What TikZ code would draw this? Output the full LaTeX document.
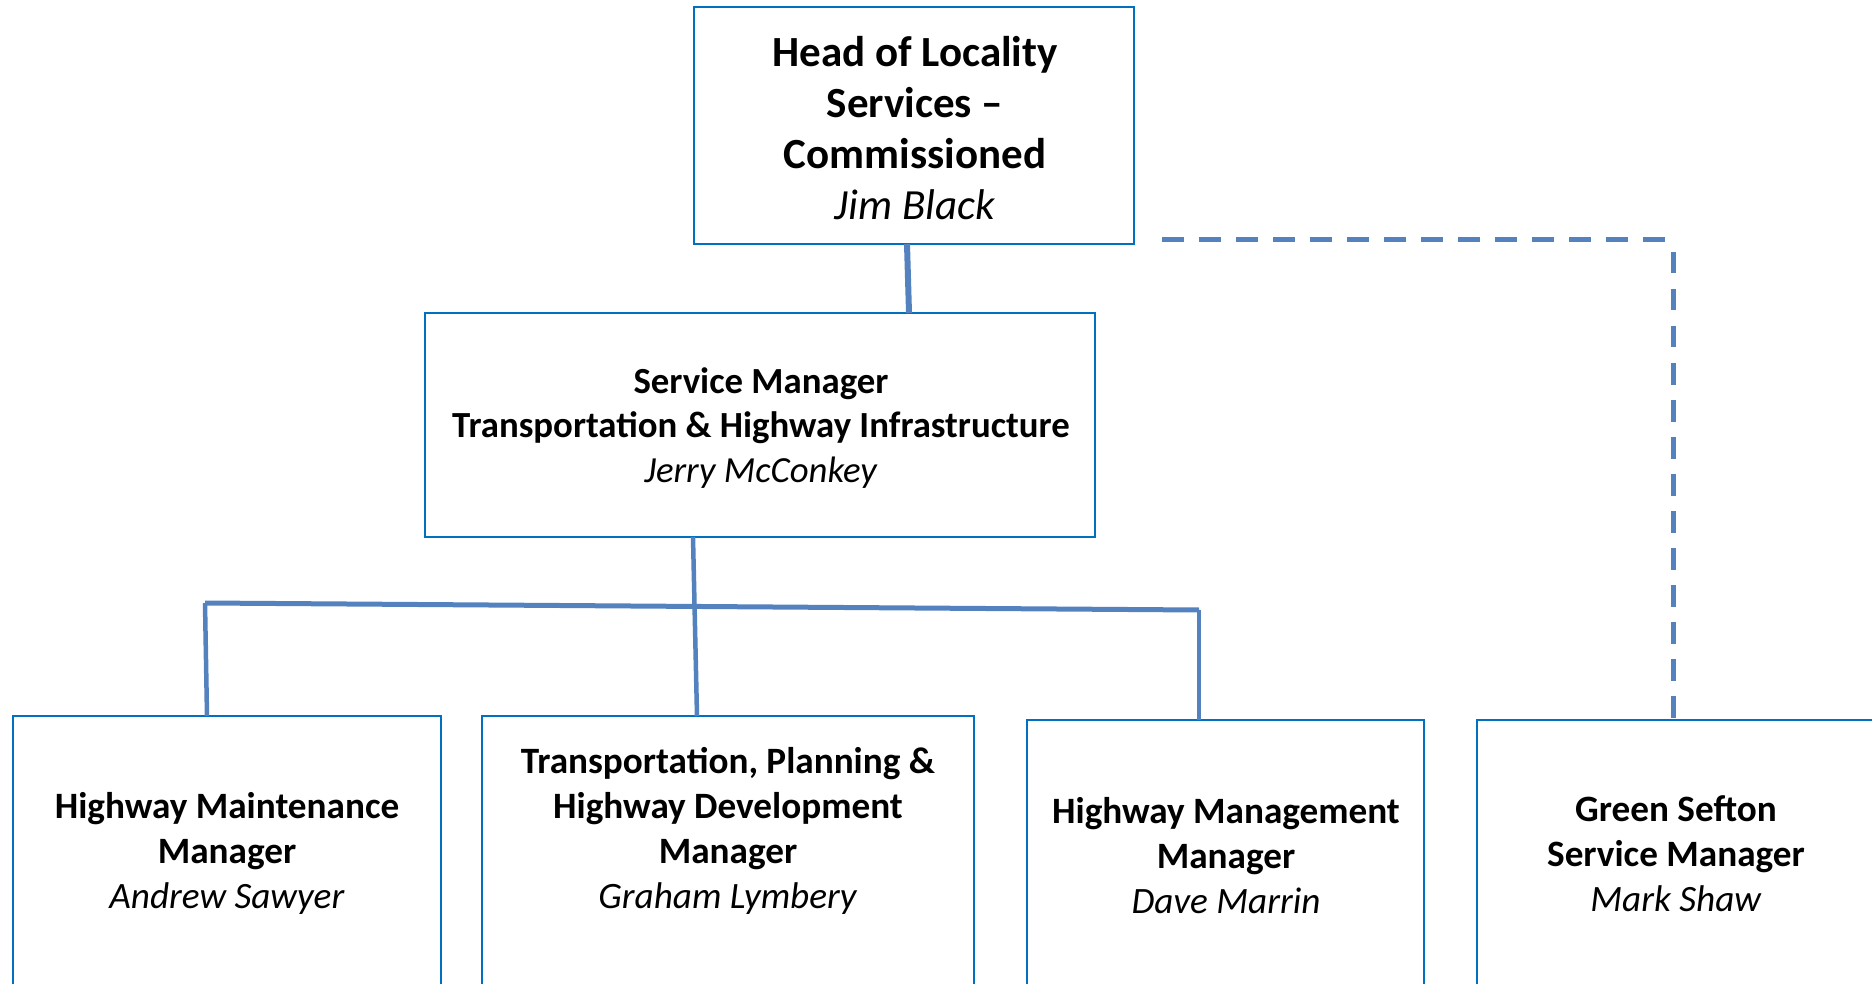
\documentclass[tikz,border=0pt]{standalone}
\usepackage{fontspec}
\setmainfont{Carlito}
\begin{document}
\begin{tikzpicture}[x=1pt,y=-1pt,
  box/.style={draw=boxblue,line width=2pt,fill=white,inner sep=0pt},
  conn/.style={draw=lineblue,line width=5pt},
  dashconn/.style={draw=lineblue,line width=5pt,dash pattern=on 21.5pt off 15.5pt},
  headtxt/.style={align=center,font=\fontsize{43}{51}\selectfont,inner sep=0pt},
  smtxt/.style={align=center,font=\fontsize{36.8}{44.5}\selectfont,inner sep=0pt},
  subtxt/.style={align=center,font=\fontsize{37.2}{45}\selectfont,inner sep=0pt}]
\definecolor{boxblue}{RGB}{0,112,192}
\definecolor{lineblue}{RGB}{84,130,190}
\useasboundingbox (0,0) rectangle (1872,984);
\clip (0,0) rectangle (1872,984);
% boxes
\node[box,minimum width=440pt,minimum height=237pt] (head) at (914,125.5) {};
\node[box,minimum width=670pt,minimum height=224pt] (sm) at (760,425) {};
\node[box,minimum width=428pt,minimum height=300pt] (hmm) at (227,866) {};
\node[box,minimum width=492pt,minimum height=300pt] (tphd) at (728,866) {};
\node[box,minimum width=397pt,minimum height=300pt] (hmg) at (1225.5,870) {};
\node[box,minimum width=420pt,minimum height=300pt] (gs) at (1687,870) {};
% texts
\node[headtxt] (thead) at (915,128) {\textbf{Head of Locality}\\\textbf{Services –}\\\textbf{Commissioned}\\\textit{Jim Black}};
\node[smtxt] (tsm) at (761,428) {\textbf{Service Manager}\\\textbf{Transportation \& Highway Infrastructure}\\\textit{Jerry McConkey}};
\node[subtxt] (thmm) at (227,853) {\textbf{Highway Maintenance}\\\textbf{Manager}\\\textit{Andrew Sawyer}};
\node[subtxt] (ttphd) at (728,831) {\textbf{Transportation, Planning \&}\\\textbf{Highway Development}\\\textbf{Manager}\\\textit{Graham Lymbery}};
\node[subtxt] (thmg) at (1226,856) {\textbf{Highway Management}\\\textbf{Manager}\\\textit{Dave Marrin}};
\node[subtxt] (tgs) at (1676,854) {\textbf{Green Sefton}\\\textbf{Service Manager}\\\textit{Mark Shaw}};
% connector coordinates
\coordinate (h1) at (907,244);
\coordinate (h2) at (909,313);
\coordinate (s1) at (693,537);
\coordinate (s2) at (697,716);
\coordinate (bl) at (205,603);
\coordinate (br) at (1199,610);
\coordinate (m1) at (207,716);
\coordinate (g1) at (1199,720);
\coordinate (dstart) at (1162,240);
\coordinate (dcorner) at (1669,240);
\coordinate (vstart) at (1673,252);
\coordinate (dend) at (1673,720);
% connectors
\draw[conn,line width=6pt] (h1) -- (h2);
\draw[conn,line width=4.5pt] (s1) -- (s2);
\draw[conn] (bl) -- (br);
\draw[conn,line width=4.5pt] (bl) -- (m1);
\draw[conn,line width=4.5pt] (br) -- (g1);
\draw[dashconn] (dstart) -- (dcorner);
\draw[dashconn] (vstart) -- (dend);
\end{tikzpicture}
\end{document}
